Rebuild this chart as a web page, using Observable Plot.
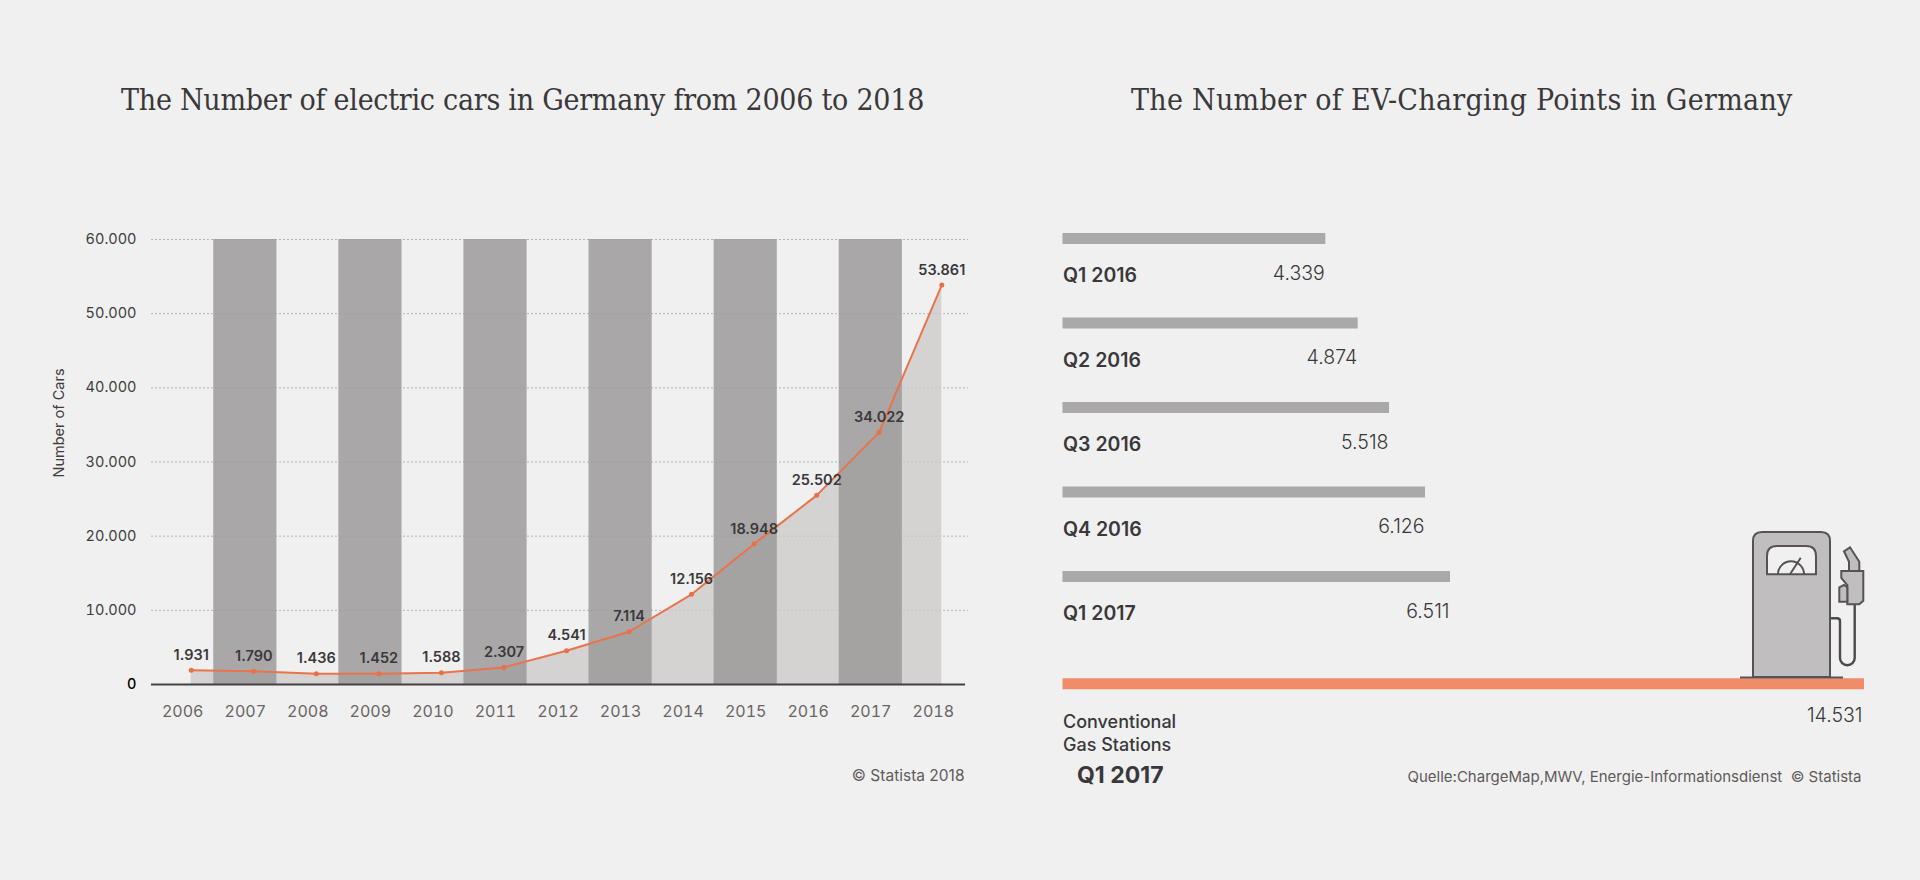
<!DOCTYPE html>
<html>
<head>
<meta charset="utf-8">
<script src="https://cdn.jsdelivr.net/npm/d3@7"></script>
<script src="https://cdn.jsdelivr.net/npm/@observablehq/plot@0.6"></script>
<style>
html,body{margin:0;padding:0;background:#f0f0f0;overflow:hidden}
#page{position:relative;width:1920px;height:880px;background:#f0f0f0}
#page svg{position:absolute;top:0;background:transparent}
.title{position:absolute;top:78px;white-space:nowrap;font-family:"DejaVu Serif Condensed","DejaVu Serif";font-stretch:condensed;font-size:30px;color:#3a383a;line-height:44px}
</style>
</head>
<body>
<div id="page">
<div class="title" id="t1" style="left:121px;letter-spacing:-0.25px">The Number of electric cars in Germany from 2006 to 2018</div>
<div class="title" id="t2" style="left:1131px;letter-spacing:0.28px">The Number of EV-Charging Points in Germany</div>
</div>
<script>
// Left chart data
const years = [2006,2007,2008,2009,2010,2011,2012,2013,2014,2015,2016,2017,2018];
const cars = [1931,1790,1436,1452,1588,2307,4541,7114,12156,18948,25502,34022,53861];
const shadedYears = [2007,2009,2011,2013,2015,2017];
const yTicks = [10000,20000,30000,40000,50000,60000];

// Right chart data
const quarters = ["Q1 2016","Q2 2016","Q3 2016","Q4 2016","Q1 2017"];
const chargingPoints = [4339,4874,5518,6126,6511];
const gasLabel = "Conventional\nGas Stations";
const gasStations = [14531];
const gasPeriod = "Q1 2017";
const sourceNote = "Quelle:ChargeMap,MWV, Energie-Informationsdienst  © Statista";
const copyright = "© Statista 2018";
const yTitle = "Number of Cars";

const de = d3.formatLocale({decimal:",",thousands:".",grouping:[3],currency:["","€"]}).format(",d");
const font = "Inter";
const page = document.getElementById("page");

const carRows = years.map((y,i)=>({year:y,value:cars[i]}));
const xStart = 2005.365;

const left = Plot.plot({
  width:1000,height:880,
  marginLeft:151,marginRight:32,marginTop:239,marginBottom:196,
  style:{fontFamily:font,background:"transparent",overflow:"visible"},
  x:{domain:[xStart,2018.427]},
  y:{domain:[0,60000]},
  marks:[
    Plot.gridY(yTicks,{stroke:"#b4b4b4",strokeOpacity:1,strokeDasharray:"2,2",strokeWidth:1}),
    Plot.areaY(carRows,{x:"year",y:"value",fill:"#cccac8",fillOpacity:0.75}),
    Plot.rectY(shadedYears,{x1:d=>d-0.64,x2:d=>d+0.37,y1:0,y2:60000,fill:"#9c9a9a",fillOpacity:0.85}),
    Plot.axisY(yTicks,{anchor:"left",tickSize:0,tickPadding:15,tickFormat:de,fontSize:14.5,fill:"#3f3d3e",label:null}),
    Plot.axisY([0],{anchor:"left",tickSize:0,tickPadding:15,tickFormat:de,fontSize:14.5,fill:"#000",label:null,fontWeight:500}),
    Plot.text([yTitle],{x:xStart,y:35260,text:d=>d,rotate:-90,dx:-92,fontSize:14.5,fill:"#3f3d3e",wordSpacing:2}),
    Plot.axisX(years,{anchor:"bottom",tickSize:0,tickPadding:21,dx:-8.5,tickFormat:d=>String(d),fontSize:16,fill:"#6a6464",label:null}),
    Plot.ruleY([0],{x1:xStart,x2:2018.38,stroke:"#444143",strokeWidth:2}),
    Plot.line(carRows,{x:"year",y:"value",stroke:"#e9744b",strokeWidth:2}),
    Plot.dot(carRows,{x:"year",y:"value",r:2.5,fill:"#ec6f45"}),
    Plot.text(carRows,{x:"year",y:"value",text:d=>de(d.value),dy:-15,fontSize:14.5,fontWeight:600,fill:"#3a383a"}),
    Plot.text([copyright],{frameAnchor:"bottom-right",text:d=>d,dy:96,dx:-4,fontSize:15.5,fill:"#5f5a5a",textAnchor:"end"})
  ]
});
left.style.left="0px";
page.appendChild(left);

const rows = quarters.map((q,i)=>({quarter:q,value:chargingPoints[i],row:i}));
const gasRow = 5.27;
const gas = gasStations.map(v=>({value:v,row:gasRow}));

function pump(index,scales,values,dims){
  const g=d3.create("svg:g").attr("transform","translate(-1000,0)").attr("stroke","#575354").attr("stroke-width",2).attr("stroke-linejoin","miter");
  g.append("path").attr("fill","none").attr("stroke","#4c494b").attr("stroke-width",2.4)
    .attr("d","M1830,618.3H1837Q1840,618.3 1840,621.3V658A7.35,7.35 0 0 0 1854.7,658V604");
  g.append("path").attr("fill","#c0bebe").attr("d","M1753,677V541Q1753,532 1762,532H1821Q1830,532 1830,541V677Z");
  g.append("path").attr("fill","#f0f0f0").attr("d","M1767,574.3V556Q1767,546 1777,546H1806Q1816,546 1816,556V574.3Z");
  g.append("path").attr("fill","none").attr("d","M1778,574.3A13,13 0 0 1 1804,574.3M1790,574.3L1800.7,557.7");
  g.append("path").attr("fill","#c0bebe").attr("d","M1844,551.3L1850,547.3L1859.3,561.7V571H1849V561.7Z");
  g.append("path").attr("fill","#c0bebe").attr("d","M1841.3,571H1863.3V600.7L1859.3,604.3H1847.3V585L1841.3,578Z");
  g.append("path").attr("fill","#c0bebe").attr("d","M1839.3,587.3L1844,585L1847.3,587.3V601.7H1839.3Z");
  g.append("path").attr("fill","none").attr("d","M1740,677.5H1843");
  return g.node();
}

const right = Plot.plot({
  width:920,height:880,
  marginLeft:62.5,marginRight:56,marginTop:238,marginBottom:219,
  style:{fontFamily:font,background:"transparent",overflow:"visible"},
  // The reference's bars do not follow one linear ratio, so the x scale is piecewise.
  x:{type:"linear",domain:[0,4874,5518,6126,6511,14531],range:[62.5,357.7,389,425,450,864],axis:null},
  y:{type:"linear",domain:[0,4],range:[238,576],axis:null,clamp:false},
  marks:[
    Plot.ruleY(rows,{y:"row",x1:0,x2:"value",stroke:"#aaa8a8",strokeWidth:11}),
    Plot.ruleY(gas,{y:"row",x1:0,x2:"value",stroke:"#f08c68",strokeWidth:11}),
    pump,
    Plot.text(rows,{x:0,y:"row",text:"quarter",dy:37.5,textAnchor:"start",fontSize:19.5,fontWeight:600,fill:"#3a383a"}),
    Plot.text(rows,{x:"value",y:"row",text:d=>de(d.value),dy:35,dx:-1,textAnchor:"end",fontSize:19.5,fontWeight:300,fill:"#3a383a"}),
    Plot.text(gas,{x:0,y:"row",text:()=>gasLabel,dy:27.5,textAnchor:"start",lineAnchor:"top",lineHeight:1.3,fontSize:18,fontWeight:500,fill:"#3a383a"}),
    Plot.text(gas,{x:"value",y:"row",text:d=>de(d.value),dy:32,dx:-2,textAnchor:"end",fontSize:19.5,fontWeight:300,fill:"#3a383a"}),
    Plot.text(gas,{x:0,y:"row",text:()=>gasPeriod,dy:92,dx:14,textAnchor:"start",fontSize:23,fontWeight:700,fill:"#3a383a"}),
    Plot.text(gas,{x:"value",y:"row",text:()=>sourceNote,dy:93,dx:-3,textAnchor:"end",fontSize:15,fill:"#5f5a5a"})
  ]
});
right.style.left="1000px";
page.appendChild(right);
</script>
</body>
</html>
